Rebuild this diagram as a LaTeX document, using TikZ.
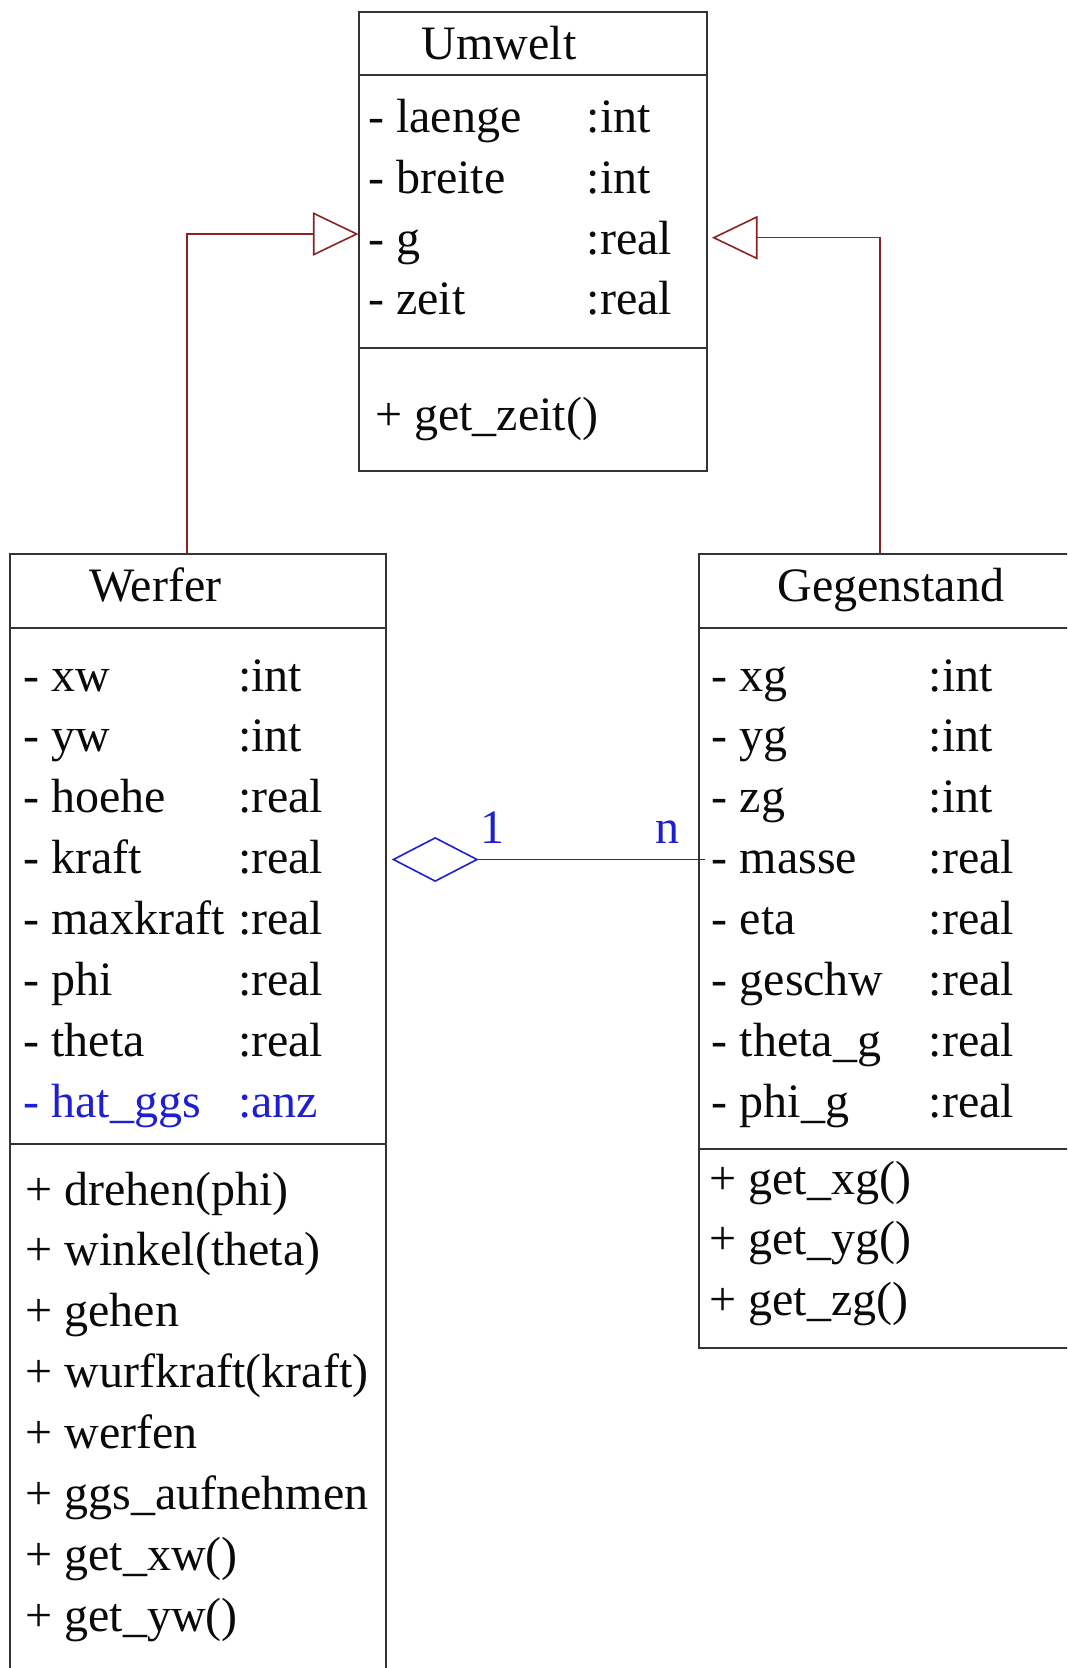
\documentclass[tikz,border=0pt]{standalone}
\usepackage{fontspec}
\setmainfont{Liberation Serif}
\usetikzlibrary{arrows.meta,fit}
\definecolor{boxline}{HTML}{333333}
\definecolor{genred}{HTML}{8B2323}
\definecolor{assocblue}{HTML}{1E1ED2}
\definecolor{ink}{HTML}{0A0A0A}

\begin{document}
\begin{tikzpicture}[x=0.5pt,y=-0.5pt,
  classbox/.style={draw=boxline, line width=1pt, inner sep=0pt, outer sep=0pt},
  divider/.style={draw=boxline, line width=1pt},
  txt/.style={anchor=base west, inner sep=0pt, outer sep=0pt, text=ink,
    font=\fontsize{24}{28}\selectfont},
  bluetxt/.style={txt, text=assocblue},
  genline/.style={draw=genred, line width=0.8pt,
    -{Triangle[open, length=22.8pt, width=21.7pt, line width=0.8pt]}},
  assoc/.style={draw=assocblue, line width=0.8pt,
    {Diamond[open, length=43.5pt, width=22.5pt, line width=0.8pt]}-}]

\useasboundingbox (0,0) rectangle (1067,1668);
\clip (0,0) rectangle (1067,1668);

% class boxes
\node[classbox, fit={(358.5,12) (707.4,471.3)}] (umwelt) {};
\node[classbox, fit={(9.6,554) (386,1700)}] (werfer) {};
\node[classbox, fit={(699,554) (1100,1347.5)}] (gegen) {};

% compartment dividers
\draw[divider] (umwelt.west |- 0,75.5) -- (umwelt.east |- 0,75.5);
\draw[divider] (umwelt.west |- 0,348) -- (umwelt.east |- 0,348);
\draw[divider] (werfer.west |- 0,627.6) -- (werfer.east |- 0,627.6);
\draw[divider] (werfer.west |- 0,1143.6) -- (werfer.east |- 0,1143.6);
\draw[divider] (gegen.west |- 0,628) -- (gegen.east |- 0,628);
\draw[divider] (gegen.west |- 0,1149) -- (gegen.east |- 0,1149);

% Umwelt
\node[txt] (umwelt-title) at (421.7,59.3) {Umwelt};
\foreach \a/\t [count=\i from 0] in {laenge/int, breite/int, g/real, zeit/real} {
  \node[txt] (u-a\i) at (368.3,{133+60.6*\i}) {- \a};
  \node[txt] (u-t\i) at (586.7,{133+60.6*\i}) {:\t};
}
\node[txt] (u-m0) at (375,430) {+ get\_zeit()};

% Werfer
\node[txt] (werfer-title) at (89.4,601) {Werfer};
\foreach \a/\t [count=\i from 0] in {xw/int, yw/int, hoehe/real, kraft/real,
    maxkraft/real, phi/real, theta/real} {
  \node[txt] (w-a\i) at (23.4,{691+60.9*\i}) {- \a};
  \node[txt] (w-t\i) at (238,{691+60.9*\i}) {:\t};
}
\node[bluetxt] (w-a7) at (23.4,1117.3) {- hat\_ggs};
\node[bluetxt] (w-t7) at (238,1117.3) {:anz};
\foreach \m [count=\i from 0] in {drehen(phi), winkel(theta), gehen,
    wurfkraft(kraft), werfen, ggs\_aufnehmen, get\_xw(), get\_yw()} {
  \node[txt] (w-m\i) at (25.5,{1205+60.9*\i}) {+ \m};
}

% Gegenstand
\node[txt] (gegen-title) at (777.6,601) {Gegenstand};
\foreach \a/\t [count=\i from 0] in {xg/int, yg/int, zg/int, masse/real,
    eta/real, geschw/real, theta\_g/real, phi\_g/real} {
  \node[txt] (g-a\i) at (711.7,{691+60.9*\i}) {- \a};
  \node[txt] (g-t\i) at (928.7,{691+60.9*\i}) {:\t};
}
\foreach \m [count=\i from 0] in {get\_xg(), get\_yg(), get\_zg()} {
  \node[txt] (g-m\i) at (709.6,{1194+60.5*\i}) {+ \m};
}

% generalisations
\draw[genline] (werfer.north west) ++(177.4,0) |- (umwelt.west |- 0,234);
\draw[genline, shorten >=2.25pt] (gegen.north west) ++(181,0) |- (umwelt.east |- 0,237.7);

% aggregation Werfer <>--- Gegenstand
\draw[assoc, shorten <=2.85pt, shorten >=-3pt] (werfer.east |- 0,859.5) -- (gegen.west |- 0,859.5);
\node[bluetxt] (mult-one) at (480,843) {1};
\node[bluetxt] (mult-n) at (655,843) {n};
\end{tikzpicture}
\end{document}
